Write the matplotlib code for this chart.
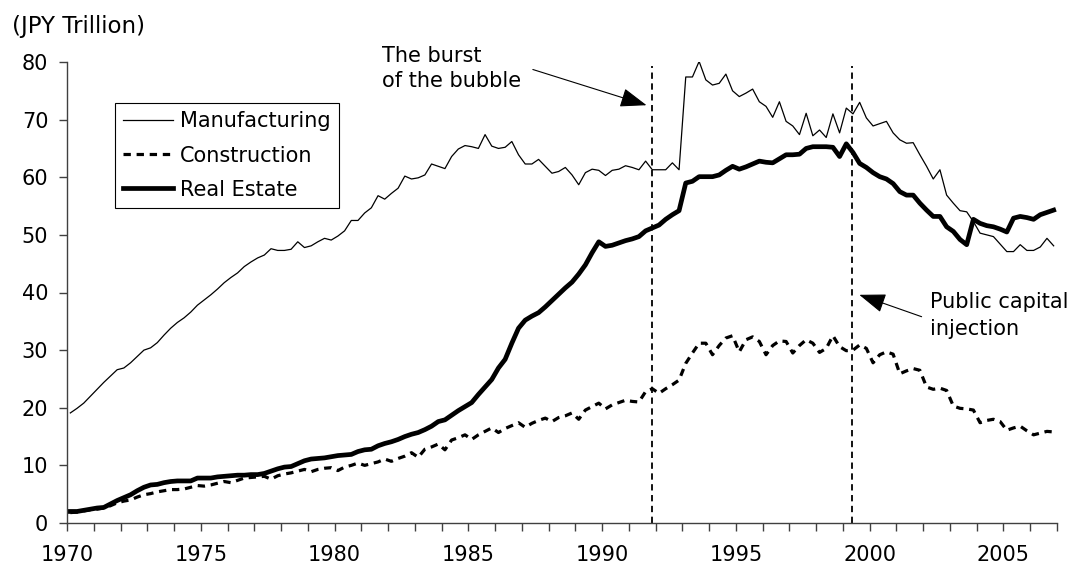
import numpy as np
import matplotlib
matplotlib.use("Agg")
import matplotlib.pyplot as plt

# quarterly data, 1970Q1 - 2006Q4 (JPY trillion)
manufacturing = [
    19.1, 19.9, 20.8, 22.0, 23.2, 24.4, 25.5, 26.6, 26.9, 27.8, 28.9, 30.0,
    30.4, 31.3, 32.6, 33.8, 34.8, 35.6, 36.6, 37.8, 38.7, 39.6, 40.6, 41.7,
    42.6, 43.4, 44.5, 45.3, 46.0, 46.5, 47.6, 47.3, 47.3, 47.5, 48.8, 47.8,
    48.1, 48.8, 49.4, 49.1, 49.8, 50.7, 52.5, 52.5, 53.8, 54.7, 56.8, 56.2,
    57.2, 58.1, 60.2, 59.7, 59.9, 60.4, 62.3, 61.9, 61.5, 63.6, 64.9, 65.5,
    65.3, 65.0, 67.4, 65.4, 65.0, 65.2, 66.2, 63.9, 62.3, 62.3, 63.1, 61.9,
    60.7, 61.0, 61.7, 60.4, 58.7, 60.8, 61.4, 61.2, 60.3, 61.2, 61.4, 62.0,
    61.7, 61.3, 62.8, 61.3, 61.3, 61.3, 62.5, 61.3, 77.4, 77.4, 80.1, 76.9,
    76.0, 76.3, 77.9, 75.0, 74.0, 74.6, 75.3, 73.1, 72.3, 70.4, 73.1, 69.7,
    68.9, 67.4, 71.1, 67.2, 68.2, 66.9, 71.0, 67.7, 72.0, 71.0, 73.0, 70.3,
    68.9, 69.3, 69.7, 67.7, 66.5, 65.9, 66.0, 63.9, 61.9, 59.7, 61.3, 56.9,
    55.5, 54.2, 54.0, 52.3, 50.3, 50.0, 49.7, 48.4, 47.1, 47.1, 48.3, 47.3,
    47.3, 47.9, 49.4, 48.1,
]
construction = [
    1.8, 1.9, 2.1, 2.3, 2.4, 2.6, 3.0, 3.5, 3.8, 4.0, 4.5, 4.9,
    5.1, 5.4, 5.6, 5.8, 5.8, 5.9, 6.2, 6.5, 6.4, 6.6, 6.9, 7.2,
    7.0, 7.4, 7.8, 7.9, 8.0, 8.1, 7.6, 8.2, 8.5, 8.7, 9.0, 9.3,
    8.9, 9.3, 9.5, 9.6, 9.1, 9.7, 10.0, 10.4, 10.0, 10.3, 10.6, 11.1,
    10.7, 11.2, 11.6, 12.2, 11.4, 12.8, 13.2, 13.7, 12.7, 14.4, 14.8, 15.3,
    14.5, 15.3, 15.9, 16.5, 15.7, 16.4, 16.9, 17.4, 16.6, 17.3, 17.8, 18.2,
    17.6, 18.3, 18.6, 19.1, 18.0, 19.6, 20.2, 20.8, 19.8, 20.5, 20.9, 21.3,
    21.1, 21.0, 22.8, 23.3, 22.5, 23.3, 24.0, 24.8, 27.7, 29.5, 31.2, 31.2,
    29.2, 30.8, 32.1, 32.5, 29.7, 31.8, 32.3, 31.5, 29.2, 30.8, 31.6, 31.5,
    29.5, 30.8, 31.8, 31.2, 29.6, 30.3, 32.5, 30.6, 29.9, 30.0, 30.9, 30.3,
    27.8, 29.2, 29.7, 29.3, 25.9, 26.4, 26.8, 26.5, 23.6, 23.2, 23.4, 23.0,
    20.3, 19.9, 19.8, 19.6, 17.4, 17.8, 18.0, 17.6, 16.1, 16.5, 16.8, 16.0,
    15.3, 15.6, 15.9, 15.8,
]
real_estate = [
    2.0, 2.0, 2.2, 2.4, 2.6, 2.7, 3.3, 3.9, 4.4, 4.9, 5.6, 6.2,
    6.6, 6.7, 7.0, 7.2, 7.3, 7.3, 7.3, 7.8, 7.8, 7.8, 8.0, 8.1,
    8.2, 8.3, 8.3, 8.4, 8.4, 8.6, 9.0, 9.4, 9.7, 9.8, 10.3, 10.8,
    11.1, 11.2, 11.3, 11.5, 11.7, 11.8, 11.9, 12.4, 12.7, 12.8, 13.4, 13.8,
    14.1, 14.5, 15.0, 15.4, 15.7, 16.2, 16.8, 17.6, 17.9, 18.7, 19.5, 20.2,
    20.9, 22.3, 23.6, 24.9, 26.9, 28.4, 31.2, 33.8, 35.2, 35.9, 36.5, 37.5,
    38.6, 39.7, 40.8, 41.8, 43.2, 44.8, 46.9, 48.8, 48.0, 48.2, 48.6, 49.0,
    49.3, 49.7, 50.7, 51.2, 51.7, 52.7, 53.5, 54.2, 59.0, 59.3, 60.1, 60.1,
    60.1, 60.4, 61.2, 61.9, 61.4, 61.8, 62.3, 62.8, 62.6, 62.5, 63.2, 63.9,
    63.9, 64.0, 65.0, 65.3, 65.3, 65.3, 65.2, 63.6, 65.8, 64.3, 62.4, 61.7,
    60.8, 60.1, 59.7, 58.9, 57.5, 56.9, 56.9, 55.5, 54.3, 53.2, 53.2, 51.4,
    50.6, 49.2, 48.3, 52.7, 52.0, 51.6, 51.4, 51.0, 50.5, 52.9, 53.2, 53.0,
    52.7, 53.5, 53.9, 54.3,
]
years = 1970 + (np.arange(len(manufacturing)) + 0.5) / 4

burst_year = 1991.875
injection_year = 1999.35

plt.rcParams["font.family"] = ["DejaVu Sans"]
plt.rcParams["font.size"] = 15

fig = plt.figure(figsize=(10.71, 5.69), dpi=100)
ax = fig.add_axes([67 / 1071, 46 / 569, 990 / 1071, 461 / 569])

ax.plot(years, manufacturing, color="black", lw=0.9, label="Manufacturing")
ax.plot(years, construction, color="black", lw=2.3, dashes=(2.3, 1.8),
        label="Construction")
ax.plot(years, real_estate, color="black", lw=3.4, label="Real Estate")

ax.vlines([burst_year, injection_year], 0, 79.3, colors="black", lw=1.3,
          linestyles=(0, (3.5, 2.5)))

ax.set_xlim(1970, 2007)
ax.set_ylim(0, 80)
ax.set_yticks(range(0, 81, 10))
ax.set_xticks(range(1970, 2008))
ax.set_xticklabels([str(y) if y % 5 == 0 else "" for y in range(1970, 2008)])

for s in ["top", "right"]:
    ax.spines[s].set_visible(False)
for s in ["left", "bottom"]:
    ax.spines[s].set_color("#404040")
    ax.spines[s].set_linewidth(1.0)
ax.tick_params(direction="out", length=5.5, width=1, color="#404040",
               labelsize=15)
ax.tick_params(axis="x", pad=10)
ax.tick_params(axis="y", pad=8)

leg = ax.legend(loc="upper left", bbox_to_anchor=(0.0485, 0.911),
                borderaxespad=0, fancybox=False, framealpha=1,
                handlelength=2.4, handletextpad=0.3, borderpad=0.4,
                labelspacing=0.68, fontsize=15)
leg.get_frame().set_edgecolor("black")
leg.get_frame().set_linewidth(0.8)

arrow = dict(arrowstyle="-|>,head_length=1.1,head_width=0.4",
             color="black", lw=0.8, shrinkA=0, shrinkB=0)
ax.annotate("", xy=(1991.66, 72.5), xytext=(1987.41, 78.7), arrowprops=arrow,
            annotation_clip=False)
ax.annotate("", xy=(1999.61, 39.6), xytext=(2001.94, 35.8), arrowprops=arrow,
            annotation_clip=False)

ax.text(1981.77, 78.9, "The burst\nof the bubble", ha="left", va="center",
        linespacing=1.35, clip_on=False)
ax.text(2002.25, 36.0, "Public capital\ninjection", ha="left", va="center",
        linespacing=1.4, clip_on=False)

fig.text(12 / 1071, 1 - 26 / 569, "(JPY Trillion)", ha="left", va="center",
         fontsize=16.5)

fig.savefig("out.png", dpi=100)
